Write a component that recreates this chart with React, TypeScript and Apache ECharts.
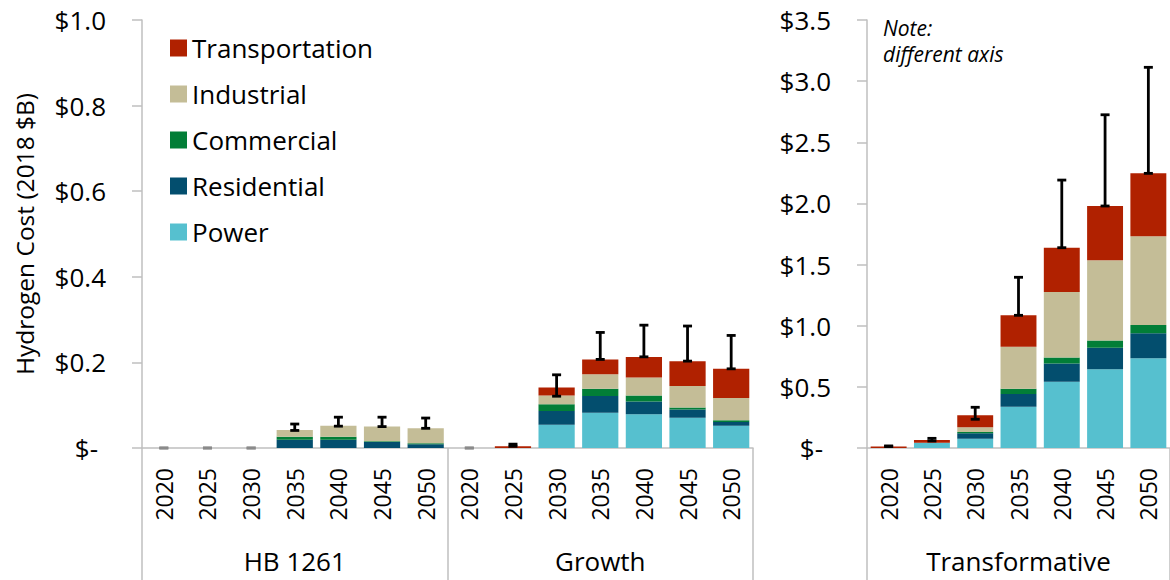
import React, { useEffect, useRef } from "react";
import * as echarts from "echarts";

const years = ["2020", "2025", "2030", "2035", "2040", "2045", "2050"];
const leftGroups = ["HB 1261", "Growth"];
const rightGroup = "Transformative";
const seriesNames = ["Power", "Residential", "Commercial", "Industrial", "Transportation"];
const legendOrder = ["Transportation", "Industrial", "Commercial", "Residential", "Power"];
const colors: Record<string, string> = {
  Power: "#56C0CF",
  Residential: "#034E6E",
  Commercial: "#027E37",
  Industrial: "#C4BD97",
  Transportation: "#B02100",
};

// left panel: HB 1261 (7) then Growth (7), $B
const leftPower = [0, 0, 0, 0, 0, 0, 0, 0, 0, 0.0545, 0.0825, 0.0787, 0.0708, 0.052];
const leftResidential = [0, 0, 0, 0.019, 0.019, 0.014, 0.009, 0, 0, 0.032, 0.039, 0.03, 0.019, 0.009];
const leftCommercial = [0, 0, 0, 0.007, 0.007, 0.002, 0.002, 0, 0, 0.016, 0.017, 0.014, 0.005, 0.004];
const leftIndustrial = [0, 0, 0, 0.016, 0.026, 0.034, 0.035, 0, 0, 0.02, 0.034, 0.042, 0.05, 0.052];
const leftTransportation = [0, 0, 0, 0, 0, 0, 0, 0, 0.004, 0.019, 0.034, 0.048, 0.058, 0.068];
const leftErrLow = [0, 0, 0, 0.041, 0.051, 0.05, 0.046, 0, 0.004, 0.121, 0.207, 0.213, 0.203, 0.185];
const leftErrHigh = [0, 0, 0, 0.056, 0.072, 0.072, 0.07, 0, 0.009, 0.171, 0.27, 0.287, 0.285, 0.263];

// right panel: Transformative
const rightPower = [0, 0.043, 0.076, 0.338, 0.542, 0.643, 0.733];
const rightResidential = [0, 0, 0.044, 0.104, 0.15, 0.177, 0.205];
const rightCommercial = [0, 0, 0.011, 0.043, 0.049, 0.06, 0.068];
const rightIndustrial = [0, 0, 0.038, 0.343, 0.535, 0.655, 0.725];
const rightTransportation = [0.012, 0.022, 0.098, 0.257, 0.362, 0.444, 0.515];
const rightErrLow = [0.012, 0.057, 0.235, 1.085, 1.638, 1.979, 2.246];
const rightErrHigh = [0.017, 0.079, 0.333, 1.396, 2.191, 2.725, 3.113];

const leftTicks = { min: 0, max: 1.0, interval: 0.2 };
const rightTicks = { min: 0, max: 3.5, interval: 0.5 };

const noteLines = ["Note:", "different axis"];

const FONT = "'Open Sans', 'Noto Sans', sans-serif";
const GRAY = "#BFBFBF";

const leftCats = leftGroups.flatMap((g) => years.map((y) => g + "|" + y));
const rightCats = years.map((y) => rightGroup + "|" + y);

const leftData: Record<string, number[]> = {
  Power: leftPower,
  Residential: leftResidential,
  Commercial: leftCommercial,
  Industrial: leftIndustrial,
  Transportation: leftTransportation,
};
const rightData: Record<string, number[]> = {
  Power: rightPower,
  Residential: rightResidential,
  Commercial: rightCommercial,
  Industrial: rightIndustrial,
  Transportation: rightTransportation,
};

function renderErr(params: any, api: any) {
  const x = api.value(0);
  const lo = api.value(1);
  const hi = api.value(2);
  const pLo = api.coord([x, lo]);
  const pHi = api.coord([x, hi]);
  const half = 4.5;
  const zero = hi - lo < 1e-9;
  const stroke = zero ? "#8a8a8a" : "#000";
  const style = { stroke, lineWidth: 2.8 };
  return {
    type: "group",
    children: [
      { type: "line", shape: { x1: pLo[0], y1: pLo[1], x2: pHi[0], y2: pHi[1] }, style },
      { type: "line", shape: { x1: pHi[0] - half, y1: pHi[1], x2: pHi[0] + half, y2: pHi[1] }, style },
      { type: "line", shape: { x1: pLo[0] - half, y1: pLo[1], x2: pLo[0] + half, y2: pLo[1] }, style },
    ],
  };
}

function yFmt(v: number) {
  if (Math.abs(v) < 1e-9) return "{z|$-}";
  return "$" + v.toFixed(1);
}

export default function App() {
  const ref = useRef<HTMLDivElement>(null);
  useEffect(() => {
    if (!ref.current) return;
    const chart = echarts.init(ref.current, undefined, { renderer: "svg" });

    const yearAxis = (gridIndex: number, data: string[]) => ({
      type: "category",
      gridIndex,
      data,
      position: "bottom",
      axisLine: { show: true, lineStyle: { color: GRAY, width: 1.5 } },
      axisTick: { show: false },
      axisLabel: {
        rotate: 90,
        margin: 20,
        fontSize: 23,
        fontFamily: FONT,
        color: "#000",
        interval: 0,
        formatter: (v: string) => v.split("|")[1],
      },
      splitLine: { show: false },
    });

    const groupAxis = (gridIndex: number, data: string[]) => ({
      type: "category",
      gridIndex,
      data,
      position: "bottom",
      axisLine: { show: false },
      axisTick: { show: true, length: 140, lineStyle: { color: GRAY, width: 1.5 } },
      axisLabel: { margin: 100, fontSize: 26, fontFamily: FONT, color: "#000", interval: 0 },
      splitLine: { show: false },
    });

    const yAxis = (gridIndex: number, t: { min: number; max: number; interval: number }, name?: string) => ({
      type: "value",
      gridIndex,
      min: t.min,
      max: t.max,
      interval: t.interval,
      name: name || "",
      nameLocation: "middle",
      nameRotate: 90,
      nameGap: 105,
      nameTextStyle: { fontSize: 24.5, fontFamily: FONT, color: "#000" },
      axisLine: { show: true, lineStyle: { color: GRAY, width: 1.5 } },
      axisTick: { show: true, length: 10, lineStyle: { color: GRAY, width: 1.5 } },
      splitLine: { show: false },
      axisLabel: {
        margin: 36,
        fontSize: 26,
        fontFamily: FONT,
        color: "#000",
        formatter: yFmt,
        rich: { z: { fontSize: 26, fontFamily: FONT, color: "#000", padding: [0, 8, 0, 0] } },
      },
    });

    const barSeries = (xAxisIndex: number, yAxisIndex: number, data: Record<string, number[]>, stack: string) =>
      seriesNames.map((n) => ({
        type: "bar",
        name: n,
        stack,
        xAxisIndex,
        yAxisIndex,
        barCategoryGap: "17%",
        itemStyle: { color: colors[n] },
        data: data[n],
        emphasis: { disabled: true },
      }));

    const errSeries = (xAxisIndex: number, yAxisIndex: number, lo: number[], hi: number[]) => ({
      type: "custom",
      name: "err",
      xAxisIndex,
      yAxisIndex,
      renderItem: renderErr,
      encode: { x: 0, y: [1, 2] },
      data: lo.map((l, i) => [i, l, hi[i]]),
      z: 10,
    });

    const noteStyle = { fontSize: 21, fontStyle: "italic", fontFamily: FONT, fill: "#000" };

    chart.setOption({
      animation: false,
      textStyle: { fontFamily: FONT },
      grid: [
        { left: 142, top: 20, width: 611, height: 428 },
        { left: 867, top: 20, width: 308, height: 428 },
      ],
      legend: {
        data: legendOrder,
        orient: "vertical",
        left: 170,
        top: 35,
        padding: 0,
        itemWidth: 17,
        itemHeight: 17,
        itemGap: 20,
        icon: "rect",
        textStyle: { fontSize: 26, fontFamily: FONT, color: "#000", lineHeight: 26 },
        selectedMode: false,
      },
      xAxis: [
        yearAxis(0, leftCats),
        groupAxis(0, leftGroups),
        yearAxis(1, rightCats),
        groupAxis(1, [rightGroup]),
      ],
      yAxis: [yAxis(0, leftTicks, "Hydrogen Cost (2018 $B)"), yAxis(1, rightTicks)],
      series: [
        ...barSeries(0, 0, leftData, "left"),
        errSeries(0, 0, leftErrLow, leftErrHigh),
        ...barSeries(2, 1, rightData, "right"),
        errSeries(2, 1, rightErrLow, rightErrHigh),
      ],
      graphic: [
        { type: "text", left: 883, top: 17, style: { ...noteStyle, text: noteLines[0] } },
        { type: "text", left: 883, top: 43, style: { ...noteStyle, text: noteLines[1] } },
      ],
    });
    return () => chart.dispose();
  }, []);
  return (
    <div
      ref={ref}
      style={{ position: "fixed", left: 0, top: 0, width: 1170, height: 580, background: "#fff" }}
    />
  );
}
